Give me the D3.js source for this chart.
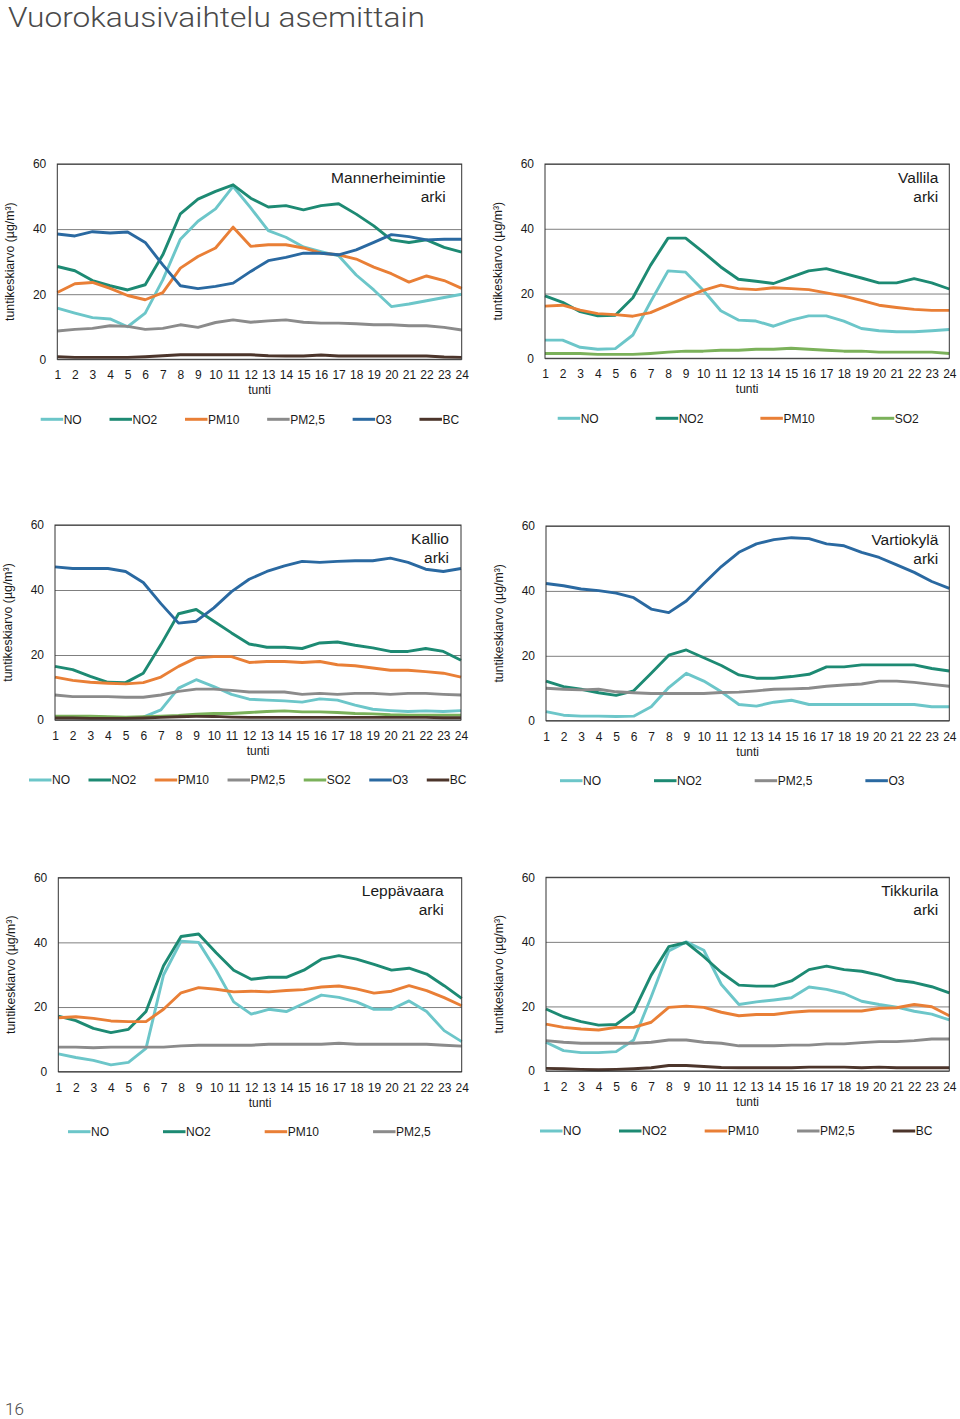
<!DOCTYPE html>
<html>
<head>
<meta charset="utf-8">
<script src="https://cdn.jsdelivr.net/npm/d3@7"></script>
<style>
  html, body { margin: 0; padding: 0; background: #fff; }
  svg { display: block; }
</style>
</head>
<body>
<script>
// ---------- DATA ----------
const pageTitle = "Vuorokausivaihtelu asemittain";
const pageNumber = "16";
const hourLabels = ["1","2","3","4","5","6","7","8","9","10","11","12","13","14","15","16","17","18","19","20","21","22","23","24"];
const yTicks = [0, 20, 40, 60];
const yTitle = "tuntikeskiarvo (µg/m³)";
const xTitle = "tunti";
const dayLabel = "arki";
const stations = ["Mannerheimintie", "Vallila", "Kallio", "Vartiokylä", "Leppävaara", "Tikkurila"];

// Mannerheimintie
const man_NO   = [15.7,14.2,12.8,12.4,10.0,14.2,24.4,36.9,42.4,46.2,53.1,46.5,39.5,37.5,34.5,33.1,31.8,25.9,21.3,16.2,17.0,18.0,19.0,20.0];
const man_NO2  = [28.5,27.2,24.2,22.6,21.3,22.9,32.1,44.7,49.2,51.6,53.6,49.5,46.8,47.2,45.9,47.2,47.8,44.6,41.0,36.7,35.9,36.7,34.4,32.9];
const man_PM10 = [20.5,23.2,23.6,21.8,19.6,18.3,20.5,28.0,31.6,34.2,40.6,34.7,35.2,35.2,34.2,32.6,32.1,30.8,28.3,26.3,23.7,25.6,24.2,21.8];
const man_PM25 = [8.7,9.2,9.5,10.3,10.1,9.2,9.5,10.6,9.8,11.3,12.1,11.4,11.8,12.1,11.4,11.1,11.1,10.9,10.6,10.6,10.3,10.3,9.8,9.0];
const man_O3   = [38.5,37.9,39.2,38.8,39.1,35.9,29.0,22.6,21.7,22.4,23.4,27.0,30.3,31.3,32.6,32.6,32.1,33.6,35.9,38.3,37.7,36.7,36.9,36.9];
const man_BC   = [0.8,0.6,0.6,0.6,0.6,0.8,1.1,1.4,1.4,1.4,1.4,1.4,1.1,1.0,1.0,1.3,1.0,1.0,1.0,1.0,1.0,1.0,0.7,0.6];

// Vallila
const val_NO   = [5.6,5.6,3.4,2.8,3.0,7.2,17.4,27.0,26.6,21.0,14.7,11.8,11.5,9.9,11.8,13.1,13.1,11.5,9.2,8.5,8.2,8.2,8.5,8.9];
const val_NO2  = [19.3,17.3,14.4,13.1,13.3,18.7,28.7,37.1,37.1,32.8,28.2,24.4,23.8,23.1,25.1,27.0,27.7,26.2,24.8,23.3,23.3,24.6,23.3,21.4];
const val_PM10 = [16.1,16.4,14.9,13.8,13.5,13.0,14.1,16.4,18.8,21.0,22.6,21.5,21.2,21.8,21.5,21.2,20.2,19.2,17.9,16.4,15.7,15.1,14.8,14.8];
const val_SO2  = [1.5,1.5,1.5,1.2,1.2,1.2,1.5,1.9,2.2,2.2,2.5,2.5,2.8,2.8,3.1,2.8,2.5,2.2,2.2,1.9,1.9,1.9,1.9,1.5];

// Kallio
const kal_NO   = [1.0,1.0,1.0,0.8,0.8,0.9,3.1,9.8,12.4,10.3,7.9,6.4,6.1,5.9,5.5,6.5,6.1,4.6,3.3,2.9,2.6,2.8,2.6,2.9];
const kal_NO2  = [16.5,15.5,13.4,11.6,11.5,14.4,23.2,32.7,34.0,30.4,26.8,23.4,22.4,22.4,22.0,23.7,24.0,23.0,22.2,21.1,21.1,22.0,21.1,18.4];
const kal_PM10 = [13.2,12.2,11.6,11.3,11.1,11.5,13.2,16.5,19.1,19.5,19.5,17.7,18.0,18.0,17.7,18.0,17.0,16.7,16.0,15.3,15.3,14.9,14.4,13.2];
const kal_PM25 = [7.7,7.2,7.2,7.2,7.0,7.0,7.7,8.8,9.5,9.5,9.1,8.6,8.6,8.6,7.9,8.2,7.9,8.2,8.2,7.9,8.2,8.2,7.9,7.7];
const kal_SO2  = [1.2,1.2,1.2,1.0,0.9,1.0,1.2,1.4,1.8,2.0,2.0,2.3,2.6,2.8,2.5,2.5,2.3,2.0,1.9,1.6,1.5,1.5,1.5,1.5];
const kal_O3   = [47.1,46.6,46.6,46.6,45.7,42.3,35.8,29.8,30.4,34.5,39.5,43.3,45.7,47.4,48.8,48.5,48.8,49.0,49.0,49.8,48.5,46.4,45.7,46.6];
const kal_BC   = [0.6,0.6,0.5,0.5,0.5,0.6,0.8,1.0,1.1,1.1,0.9,0.8,0.8,0.8,0.8,0.8,0.8,0.8,0.8,0.8,0.8,0.8,0.7,0.7];

// Vartiokylä
const var_NO   = [2.8,1.7,1.4,1.4,1.3,1.4,4.3,10.2,14.6,12.2,8.9,5.0,4.5,5.7,6.3,5.0,5.0,5.0,5.0,5.0,5.0,5.0,4.3,4.3];
const var_NO2  = [12.2,10.5,9.7,8.6,7.8,9.2,14.6,20.2,21.8,19.4,17.0,14.1,13.1,13.1,13.6,14.3,16.6,16.6,17.2,17.2,17.2,17.2,16.1,15.3];
const var_PM25 = [10.0,9.7,9.5,9.7,8.9,8.6,8.4,8.4,8.4,8.4,8.7,8.8,9.2,9.7,9.8,10.0,10.6,11.0,11.3,12.2,12.2,11.8,11.2,10.6];
const var_O3   = [42.3,41.6,40.6,40.1,39.3,37.9,34.4,33.3,36.9,42.3,47.5,51.9,54.5,55.8,56.4,56.1,54.5,53.9,51.9,50.3,48.0,45.7,42.9,40.8];

// Leppävaara
const lep_NO   = [5.5,4.4,3.5,2.1,2.9,7.2,29.9,40.4,40.0,31.4,21.6,17.8,19.3,18.6,21.1,23.7,23.0,21.6,19.3,19.3,21.9,18.6,12.7,9.3];
const lep_NO2  = [17.2,15.8,13.4,12.1,13.1,18.6,32.8,41.8,42.6,36.8,31.4,28.6,29.2,29.2,31.4,34.8,35.9,34.8,33.2,31.4,32.0,30.2,26.6,22.7];
const lep_PM10 = [16.7,17.0,16.5,15.7,15.5,15.5,19.3,24.4,26.0,25.5,24.7,24.9,24.7,25.1,25.4,26.2,26.5,25.6,24.3,24.9,26.6,25.1,22.9,20.4];
const lep_PM25 = [7.6,7.6,7.4,7.6,7.6,7.6,7.6,8.0,8.2,8.2,8.2,8.2,8.5,8.5,8.5,8.5,8.8,8.5,8.5,8.5,8.5,8.5,8.2,7.9];

// Tikkurila
const tik_NO   = [8.9,6.3,5.7,5.7,6.0,9.6,23.0,37.2,40.0,37.4,26.8,20.6,21.4,22.0,22.7,26.0,25.3,24.0,21.6,20.6,19.8,18.5,17.6,15.8];
const tik_NO2  = [19.2,16.8,15.3,14.2,14.4,18.4,29.7,38.5,39.8,35.4,30.5,26.6,26.3,26.3,27.9,31.4,32.5,31.4,30.9,29.7,28.1,27.4,26.1,24.2];
const tik_PM10 = [14.5,13.5,13.0,12.7,13.5,13.5,15.1,19.7,20.1,19.7,18.2,17.1,17.5,17.5,18.2,18.6,18.6,18.6,18.6,19.4,19.6,20.6,19.9,17.1];
const tik_PM25 = [9.4,8.9,8.6,8.6,8.6,8.6,8.9,9.6,9.6,8.9,8.6,7.8,7.8,7.8,8.0,8.0,8.4,8.4,8.8,9.1,9.1,9.4,9.9,9.9];
const tik_BC   = [0.8,0.7,0.5,0.4,0.5,0.7,1.0,1.7,1.7,1.4,1.1,1.0,1.0,1.0,1.0,1.2,1.2,1.2,1.0,1.2,1.0,1.0,1.0,1.0];

// ---------- STYLES ----------
const colors = {
  "NO": "#6cc6c9",
  "NO2": "#1d8a73",
  "PM10": "#e97f36",
  "PM2,5": "#8b8b8b",
  "SO2": "#7bb15a",
  "O3": "#2a69a1",
  "BC": "#4c352b"
};

const panels = [
  { station: stations[0], series: [["NO",man_NO],["NO2",man_NO2],["PM10",man_PM10],["PM2,5",man_PM25],["O3",man_O3],["BC",man_BC]],
    box: {x0: 57.3, x1: 461.7, yt: 164, yb: 359.3}, labelRight: 16, legend: {start: 40.7, gap: 27.8} },
  { station: stations[1], series: [["NO",val_NO],["NO2",val_NO2],["PM10",val_PM10],["SO2",val_SO2]],
    box: {x0: 545, x1: 949.3, yt: 164, yb: 358.3}, labelRight: 11, legend: {start: 557.7, gap: 57} },
  { station: stations[2], series: [["NO",kal_NO],["NO2",kal_NO2],["PM10",kal_PM10],["PM2,5",kal_PM25],["SO2",kal_SO2],["O3",kal_O3],["BC",kal_BC]],
    box: {x0: 55, x1: 461, yt: 525, yb: 720}, labelRight: 12, legend: {start: 29, gap: 18.5} },
  { station: stations[3], series: [["NO",var_NO],["NO2",var_NO2],["PM2,5",var_PM25],["O3",var_O3]],
    box: {x0: 546, x1: 949.3, yt: 526, yb: 720.7}, labelRight: 11, legend: {start: 560, gap: 53} },
  { station: stations[4], series: [["NO",lep_NO],["NO2",lep_NO2],["PM10",lep_PM10],["PM2,5",lep_PM25]],
    box: {x0: 58.3, x1: 461.7, yt: 877.7, yb: 1071.7}, labelRight: 18, legend: {start: 68, gap: 54} },
  { station: stations[5], series: [["NO",tik_NO],["NO2",tik_NO2],["PM10",tik_PM10],["PM2,5",tik_PM25],["BC",tik_BC]],
    box: {x0: 546, x1: 949.3, yt: 877.3, yb: 1071}, labelRight: 11, legend: {start: 540, gap: 38} }
];

const FONT = "'Liberation Sans', Arial, sans-serif";
const W = 960, H = 1419;

const svg = d3.select("body").append("svg")
  .attr("width", W).attr("height", H)
  .attr("viewBox", `0 0 ${W} ${H}`);

svg.append("rect").attr("width", W).attr("height", H).attr("fill", "#fff");

svg.append("text")
  .attr("x", 8).attr("y", 26.5)
  .attr("font-family", "Roboto, sans-serif")
  .attr("font-size", 28)
  .attr("font-weight", 300)
  .attr("fill", "#4a4a4a")
  .attr("textLength", 417)
  .attr("lengthAdjust", "spacingAndGlyphs")
  .text(pageTitle);

svg.append("text")
  .attr("x", 5).attr("y", 1415)
  .attr("font-family", "Roboto, sans-serif")
  .attr("font-weight", 300)
  .attr("font-size", 17)
  .attr("fill", "#4a4a4a")
  .text(pageNumber);

panels.forEach(p => {
  const b = p.box;
  const g = svg.append("g");
  const x = d3.scalePoint().domain(hourLabels).range([b.x0, b.x1]);
  const y = d3.scaleLinear().domain([0, 60]).range([b.yb, b.yt]);

  // gridlines + y labels
  const yAxis = g.append("g")
    .attr("transform", `translate(${b.x0},0)`)
    .call(d3.axisLeft(y).tickValues(yTicks).tickSize(-(b.x1 - b.x0)).tickPadding(11).tickFormat(d3.format("d")));
  yAxis.select(".domain").remove();
  yAxis.selectAll(".tick line").attr("stroke", "#7f7f7f").attr("stroke-width", 1);
  yAxis.selectAll(".tick text").attr("font-family", FONT).attr("font-size", 12).attr("fill", "#1a1a1a");

  // x labels
  const xAxis = g.append("g")
    .attr("transform", `translate(0,${b.yb})`)
    .call(d3.axisBottom(x).tickSize(0).tickPadding(11.5));
  xAxis.select(".domain").remove();
  xAxis.selectAll(".tick text").attr("font-family", FONT).attr("font-size", 12).attr("fill", "#1a1a1a");

  // axis titles
  g.append("text")
    .attr("transform", `translate(${b.x0 - 43},${(b.yt + b.yb) / 2}) rotate(-90)`)
    .attr("text-anchor", "middle")
    .attr("font-family", FONT).attr("font-size", 12.3).attr("fill", "#1a1a1a")
    .text(yTitle);
  g.append("text")
    .attr("x", (b.x0 + b.x1) / 2).attr("y", b.yb + 35)
    .attr("text-anchor", "middle")
    .attr("font-family", FONT).attr("font-size", 12).attr("fill", "#1a1a1a")
    .text(xTitle);

  // lines
  const line = d3.line().x((d, i) => x(hourLabels[i])).y(d => y(d));
  p.series.forEach(([name, vals]) => {
    g.append("path")
      .datum(vals)
      .attr("d", line)
      .attr("fill", "none")
      .attr("stroke", colors[name])
      .attr("stroke-width", 2.9)
      .attr("stroke-linejoin", "round");
  });

  // border
  g.append("rect")
    .attr("x", b.x0).attr("y", b.yt)
    .attr("width", b.x1 - b.x0).attr("height", b.yb - b.yt)
    .attr("fill", "none").attr("stroke", "#333").attr("stroke-width", 1);

  // station label
  const lx = b.x1 - p.labelRight;
  g.append("text").attr("x", lx).attr("y", b.yt + 18.5).attr("text-anchor", "end")
    .attr("font-family", FONT).attr("font-size", 15.5).attr("fill", "#1a1a1a").text(p.station);
  g.append("text").attr("x", lx).attr("y", b.yt + 37.5).attr("text-anchor", "end")
    .attr("font-family", FONT).attr("font-size", 15.5).attr("fill", "#1a1a1a").text(dayLabel);

  // legend
  const ly = b.yb + 60;
  let cx = p.legend.start;
  p.series.forEach(([name]) => {
    g.append("line")
      .attr("x1", cx).attr("x2", cx + 22.5)
      .attr("y1", ly).attr("y2", ly)
      .attr("stroke", colors[name]).attr("stroke-width", 3);
    const t = g.append("text")
      .attr("x", cx + 23).attr("y", ly + 4.3)
      .attr("font-family", FONT).attr("font-size", 12).attr("fill", "#1a1a1a")
      .text(name);
    const tw = t.node().getComputedTextLength();
    cx = cx + 23 + tw + p.legend.gap;
  });
});
</script>
</body>
</html>
